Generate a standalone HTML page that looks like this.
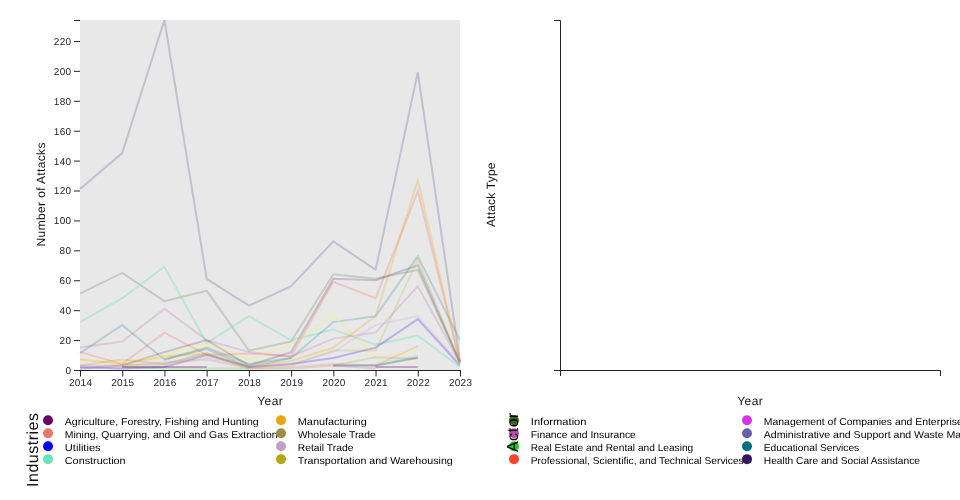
<!DOCTYPE html>
<html><head><meta charset="utf-8"><title>Attacks by Industry</title>
<style>
html,body{margin:0;padding:0;background:#fff;}
body{width:960px;height:500px;overflow:hidden;}
svg{display:block;}
text{font-family:"Liberation Sans","DejaVu Sans",sans-serif;fill:#212529;text-rendering:geometricPrecision;}
.tick text{font-size:10px;fill:#212529;}
.lbl{font-size:12px;fill:#111;}
.leg text{font-size:10px;fill:#000;}
.ln{fill:none;stroke-width:2;stroke-linejoin:miter;}
</style></head><body>
<svg width="960" height="500" viewBox="0 0 960 500">

<g class="chart1">
<rect x="80" y="20" width="380" height="350" fill="#e8e8e8"/>
<g class="tick" text-anchor="end">
<line x1="74" x2="80" y1="20.5" y2="20.5" stroke="#212529"/>
<line x1="74" x2="80" y1="370.50" y2="370.50" stroke="#212529"/><text x="71" y="373.90" textLength="5.72">0</text>
<line x1="74" x2="80" y1="340.59" y2="340.59" stroke="#212529"/><text x="71" y="343.99" textLength="11.44">20</text>
<line x1="74" x2="80" y1="310.67" y2="310.67" stroke="#212529"/><text x="71" y="314.07" textLength="11.44">40</text>
<line x1="74" x2="80" y1="280.76" y2="280.76" stroke="#212529"/><text x="71" y="284.16" textLength="11.44">60</text>
<line x1="74" x2="80" y1="250.84" y2="250.84" stroke="#212529"/><text x="71" y="254.24" textLength="11.44">80</text>
<line x1="74" x2="80" y1="220.93" y2="220.93" stroke="#212529"/><text x="71" y="224.33" textLength="17.16">100</text>
<line x1="74" x2="80" y1="191.01" y2="191.01" stroke="#212529"/><text x="71" y="194.41" textLength="17.16">120</text>
<line x1="74" x2="80" y1="161.10" y2="161.10" stroke="#212529"/><text x="71" y="164.50" textLength="17.16">140</text>
<line x1="74" x2="80" y1="131.18" y2="131.18" stroke="#212529"/><text x="71" y="134.58" textLength="17.16">160</text>
<line x1="74" x2="80" y1="101.27" y2="101.27" stroke="#212529"/><text x="71" y="104.67" textLength="17.16">180</text>
<line x1="74" x2="80" y1="71.35" y2="71.35" stroke="#212529"/><text x="71" y="74.75" textLength="17.16">200</text>
<line x1="74" x2="80" y1="41.44" y2="41.44" stroke="#212529"/><text x="71" y="44.84" textLength="17.16">220</text>
</g>
<g class="tick" text-anchor="middle">
<line x1="80" x2="460.5" y1="370.5" y2="370.5" stroke="#212529"/>
<line x1="80.50" x2="80.50" y1="370" y2="376.5" stroke="#212529"/><text x="80.50" y="386.3" textLength="22.9">2014</text>
<line x1="122.72" x2="122.72" y1="370" y2="376.5" stroke="#212529"/><text x="122.72" y="386.3" textLength="22.9">2015</text>
<line x1="164.94" x2="164.94" y1="370" y2="376.5" stroke="#212529"/><text x="164.94" y="386.3" textLength="22.9">2016</text>
<line x1="207.17" x2="207.17" y1="370" y2="376.5" stroke="#212529"/><text x="207.17" y="386.3" textLength="22.9">2017</text>
<line x1="249.39" x2="249.39" y1="370" y2="376.5" stroke="#212529"/><text x="249.39" y="386.3" textLength="22.9">2018</text>
<line x1="291.61" x2="291.61" y1="370" y2="376.5" stroke="#212529"/><text x="291.61" y="386.3" textLength="22.9">2019</text>
<line x1="333.83" x2="333.83" y1="370" y2="376.5" stroke="#212529"/><text x="333.83" y="386.3" textLength="22.9">2020</text>
<line x1="376.06" x2="376.06" y1="370" y2="376.5" stroke="#212529"/><text x="376.06" y="386.3" textLength="22.9">2021</text>
<line x1="418.28" x2="418.28" y1="370" y2="376.5" stroke="#212529"/><text x="418.28" y="386.3" textLength="22.9">2022</text>
<line x1="460.50" x2="460.50" y1="370" y2="376.5" stroke="#212529"/><text x="460.50" y="386.3" textLength="22.9">2023</text>
</g>
<path class="ln" stroke="#2a2a7a" opacity="0.2" d="M80.0,189.0L122.2,153.1L164.4,20.0L206.7,278.8L248.9,305.7L291.1,286.2L333.3,241.4L375.6,269.8L417.8,72.4L460.0,361.0"/>
<path class="ln" stroke="#37691a" opacity="0.2" d="M80.0,293.7L122.2,272.8L164.4,301.2L206.7,290.7L248.9,350.6L291.1,341.6L333.3,274.3L375.6,278.8L417.8,269.8L460.0,362.5"/>
<path class="ln" stroke="#69e1b9" opacity="0.36" d="M80.0,322.1L122.2,298.2L164.4,266.8L206.7,343.1L248.9,316.2L291.1,340.1L333.3,329.6L375.6,344.6L417.8,335.6L460.0,367.0"/>
<path class="ln" stroke="#b4509e" opacity="0.2" d="M80.0,347.6L122.2,341.6L164.4,308.7L206.7,340.1L248.9,352.1L291.1,356.5L333.3,338.6L375.6,332.6L417.8,286.2L460.0,362.5"/>
<path class="ln" stroke="#007080" opacity="0.2" d="M80.0,353.1L122.2,325.1L164.4,359.5L206.7,349.1L248.9,367.0L291.1,358.0L333.3,322.1L375.6,316.2L417.8,256.3L460.0,340.1"/>
<path class="ln" stroke="#ff442d" opacity="0.2" d="M80.0,352.1L122.2,364.0L164.4,332.6L206.7,355.0L248.9,353.5L291.1,356.5L333.3,281.8L375.6,298.2L417.8,191.4L460.0,362.5"/>
<path class="ln" stroke="#37145f" opacity="0.2" d="M80.0,368.5L122.2,365.5L164.4,352.1L206.7,340.1L248.9,365.5L291.1,352.1L333.3,278.8L375.6,280.3L417.8,265.3L460.0,362.5"/>
<path class="ln" stroke="#fff540" opacity="0.27" d="M80.0,359.5L122.2,362.5L164.4,355.0L206.7,343.1L248.9,359.5L291.1,344.6L333.3,314.7L375.6,358.0L417.8,350.6"/>
<path class="ln" stroke="#eba50f" opacity="0.25" d="M80.0,359.5L122.2,364.0L164.4,356.5L206.7,353.5L248.9,367.0L291.1,361.0L333.3,347.6L375.6,316.2L417.8,180.0L460.0,362.5"/>
<path class="ln" stroke="#2800ff" opacity="0.24" d="M80.0,367.0L122.2,368.5L164.4,367.0L206.7,355.0L248.9,367.0L291.1,364.0L333.3,358.0L375.6,347.6L417.8,319.1L460.0,365.5"/>
<path class="ln" stroke="#9e8c4b" opacity="0.2" d="M80.0,365.5L122.2,359.5L164.4,364.0L206.7,353.5L248.9,368.5L291.1,368.5L333.3,365.5L375.6,357.3L417.8,358.8"/>
<path class="ln" stroke="#b4a519" opacity="0.2" d="M122.2,365.5L164.4,364.0L206.7,353.5L248.9,367.0L291.1,365.5L333.3,350.6L375.6,350.6L417.8,259.3L460.0,364.0"/>
<path class="ln" stroke="#c3a0c3" opacity="0.2" d="M80.0,366.3L122.2,367.8L164.4,365.5L206.7,358.0L248.9,367.0L291.1,364.0L333.3,352.1L375.6,325.1L417.8,316.2L460.0,364.0"/>
<path class="ln" stroke="#e8776b" opacity="0.2" d="M80.0,365.5L122.2,365.5L164.4,362.5L206.7,359.5L248.9,368.5L291.1,367.0L333.3,364.0L375.6,365.5L417.8,346.1"/>
<path class="ln" stroke="#1ec832" opacity="0.2" d="M122.2,367.0L164.4,368.5L206.7,368.5L248.9,368.5"/>
<path class="ln" stroke="#1ec832" opacity="0.2" d="M333.3,365.5L375.6,365.5L417.8,358.0"/>
<path class="ln" stroke="#5a3a7a" opacity="0.25" d="M333.3,365.5L375.6,365.5L417.8,357.3"/>
<path class="ln" stroke="#69e1b9" opacity="0.12" d="M333.3,365.5L375.6,364.0L417.8,355.0"/>
<path class="ln" stroke="#660066" opacity="0.3" d="M122.2,367.0L164.4,367.0L206.7,367.0"/>
<path class="ln" stroke="#4a8a4a" opacity="0.25" d="M164.4,359.5L206.7,347.6L248.9,364.0L291.1,358.0"/>
<path class="ln" stroke="#d932e6" opacity="0.2" d="M333.3,365.5L375.6,368.5"/>
<path class="ln" stroke="#660066" opacity="0.3" d="M375.6,367.0L417.8,367.0"/>
<text class="lbl" text-anchor="middle" textLength="103.8" transform="translate(44.8,194.5) rotate(-90)">Number of Attacks</text>
<text class="lbl" text-anchor="middle" textLength="25.4" x="270" y="405">Year</text>
</g>
<g class="chart2">
<path d="M554,20.5H560.5V370.5H554" fill="none" stroke="#212529"/>
<path d="M560.5,376V370.5H940.5V376" fill="none" stroke="#212529"/>
<text class="lbl" text-anchor="middle" textLength="64.6" transform="translate(495.2,194.8) rotate(-90)">Attack Type</text>
<text class="lbl" text-anchor="middle" textLength="25.4" x="750" y="405">Year</text>
</g>
<g class="leg">
<text x="64.8" y="424.70" textLength="193.9" lengthAdjust="spacingAndGlyphs">Agriculture, Forestry, Fishing and Hunting</text>
<text x="64.8" y="437.65" textLength="212.7" lengthAdjust="spacingAndGlyphs">Mining, Quarrying, and Oil and Gas Extraction</text>
<text x="64.8" y="450.60" textLength="35.9" lengthAdjust="spacingAndGlyphs">Utilities</text>
<text x="64.8" y="463.55" textLength="60.8" lengthAdjust="spacingAndGlyphs">Construction</text>
<text x="297.8" y="424.70" textLength="68.9" lengthAdjust="spacingAndGlyphs">Manufacturing</text>
<text x="297.8" y="437.65" textLength="77.9" lengthAdjust="spacingAndGlyphs">Wholesale Trade</text>
<text x="297.8" y="450.60" textLength="55.6" lengthAdjust="spacingAndGlyphs">Retail Trade</text>
<text x="297.8" y="463.55" textLength="155.0" lengthAdjust="spacingAndGlyphs">Transportation and Warehousing</text>
<circle cx="48" cy="420.30" r="5" fill="#660066"/>
<circle cx="48" cy="433.25" r="5" fill="#e8776b"/>
<circle cx="48" cy="446.20" r="5" fill="#0000ff"/>
<circle cx="48" cy="459.15" r="5" fill="#69e1b9"/>
<circle cx="281" cy="420.30" r="5" fill="#eba50f"/>
<circle cx="281" cy="433.25" r="5" fill="#9e8c4b"/>
<circle cx="281" cy="446.20" r="5" fill="#c3a0c3"/>
<circle cx="281" cy="459.15" r="5" fill="#b4a519"/>
</g>
<text transform="translate(38.4,413) rotate(-90)" text-anchor="end" textLength="74" style="font-size:16px;fill:#111">Industries</text>
<g class="leg">
<text x="530.8" y="424.70" textLength="55.7" lengthAdjust="spacingAndGlyphs">Information</text>
<text x="530.8" y="437.65" textLength="105.0" lengthAdjust="spacingAndGlyphs">Finance and Insurance</text>
<text x="530.8" y="450.60" textLength="162.4" lengthAdjust="spacingAndGlyphs">Real Estate and Rental and Leasing</text>
<text x="530.8" y="463.55" textLength="212.9" lengthAdjust="spacingAndGlyphs">Professional, Scientific, and Technical Services</text>
<text x="763.8" y="424.70" textLength="204.2" lengthAdjust="spacingAndGlyphs">Management of Companies and Enterprises</text>
<text x="763.8" y="437.65" textLength="370.6" lengthAdjust="spacingAndGlyphs">Administrative and Support and Waste Management and Remediation Services</text>
<text x="763.8" y="450.60" textLength="95.4" lengthAdjust="spacingAndGlyphs">Educational Services</text>
<text x="763.8" y="463.55" textLength="156.1" lengthAdjust="spacingAndGlyphs">Health Care and Social Assistance</text>
<circle cx="514" cy="420.30" r="5" fill="#37691a"/>
<circle cx="514" cy="433.25" r="5" fill="#b450aa"/>
<circle cx="514" cy="446.20" r="5" fill="#1ec832"/>
<circle cx="514" cy="459.15" r="5" fill="#ff442d"/>
<circle cx="747" cy="420.30" r="5" fill="#d932e6"/>
<circle cx="747" cy="433.25" r="5" fill="#6c5faa"/>
<circle cx="747" cy="446.20" r="5" fill="#007080"/>
<circle cx="747" cy="459.15" r="5" fill="#37145f"/>
</g>
<text transform="translate(517.6,412.6) rotate(-90)" text-anchor="end" textLength="39.5" style="font-size:16px;fill:#000">Actor</text>
</svg></body></html>
